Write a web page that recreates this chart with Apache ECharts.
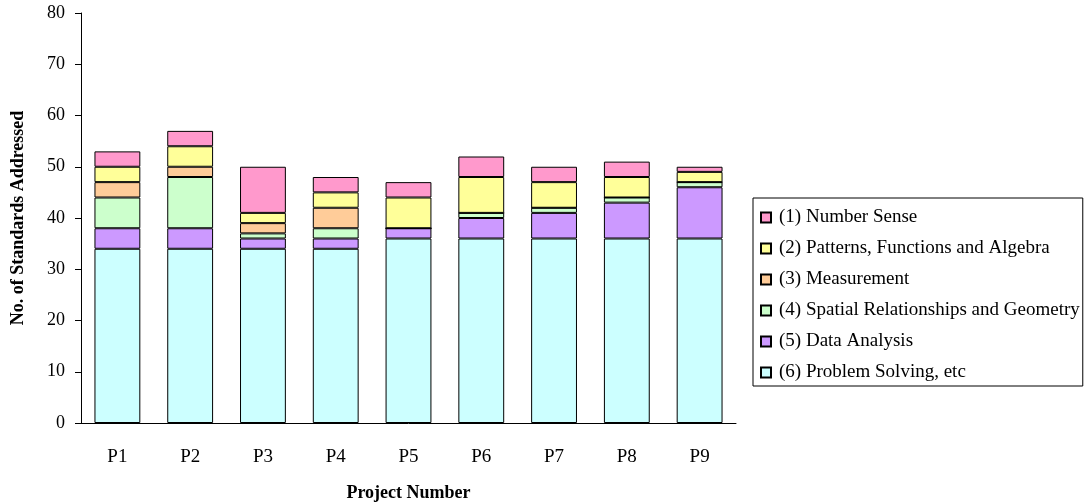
<!DOCTYPE html>
<html>
<head>
<meta charset="utf-8">
<script src="https://cdn.jsdelivr.net/npm/echarts@6/dist/echarts.min.js"></script>
<style>html,body{margin:0;padding:0;background:#fff;}#c{width:1084px;height:503px;}</style>
</head>
<body>
<div id="c"></div>
<script>
const categories = ['P1','P2','P3','P4','P5','P6','P7','P8','P9'];
const problemSolving = [34,34,34,34,36,36,36,36,36];
const dataAnalysis   = [4,4,2,2,2,4,5,7,10];
const spatial        = [6,10,1,2,0,1,1,1,1];
const measurement    = [3,2,2,4,0,0,0,0,0];
const patterns       = [3,4,2,3,6,7,5,4,2];
const numberSense    = [3,3,9,3,3,4,3,3,1];
const yTicks = [0,10,20,30,40,50,60,70,80];

const names = ['(1) Number Sense','(2) Patterns, Functions and Algebra','(3) Measurement','(4) Spatial Relationships and Geometry','(5) Data Analysis','(6) Problem Solving, etc'];
const font = 'Liberation Serif';
function s(name, data, color){
  return {name, type:'bar', stack:'a', data, barCategoryGap:'37%',
    itemStyle:{color, borderColor:'#000', borderWidth:1}};
}
const chart = echarts.init(document.getElementById('c'));
chart.setOption({
  animation:false,
  textStyle:{fontFamily:font},
  grid:{left:81, right:348, top:13, bottom:80, containLabel:false, outerBoundsMode:'none'},
  legend:{orient:'vertical', left:753, top:198, icon:'rect',
    data:names, itemWidth:10, itemHeight:10, itemGap:12,
    borderColor:'#000', borderWidth:1, padding:[10,3,4,7],
    textStyle:{fontFamily:font, fontSize:19, color:'#000', lineHeight:19, padding:[0,0,0,3]}},
  xAxis:{type:'category', data:categories,
    name:'Project Number', nameLocation:'middle', nameGap:61,
    nameTextStyle:{fontFamily:font, fontSize:18, fontWeight:'bold', color:'#000'},
    axisLine:{lineStyle:{color:'#000'}},
    axisTick:{length:6, lineStyle:{color:'#000'}},
    axisLabel:{fontFamily:font, fontSize:19, color:'#000', margin:25}},
  yAxis:{type:'value', min:yTicks[0], max:yTicks[yTicks.length-1], interval:10,
    name:'No. of Standards Addressed', nameLocation:'middle', nameGap:54,
    nameTextStyle:{fontFamily:font, fontSize:18, fontWeight:'bold', color:'#000'},
    axisLine:{show:true, lineStyle:{color:'#000'}},
    axisTick:{show:true, length:6, lineStyle:{color:'#000'}},
    splitLine:{show:false},
    axisLabel:{fontFamily:font, fontSize:18, color:'#000', margin:16}},
  series:[
    s(names[5], problemSolving, '#CCFFFF'),
    s(names[4], dataAnalysis, '#CC99FF'),
    s(names[3], spatial, '#CCFFCC'),
    s(names[2], measurement, '#FFCC99'),
    s(names[1], patterns, '#FFFF99'),
    s(names[0], numberSense, '#FF99CC')
  ]
});
</script>
</body>
</html>
